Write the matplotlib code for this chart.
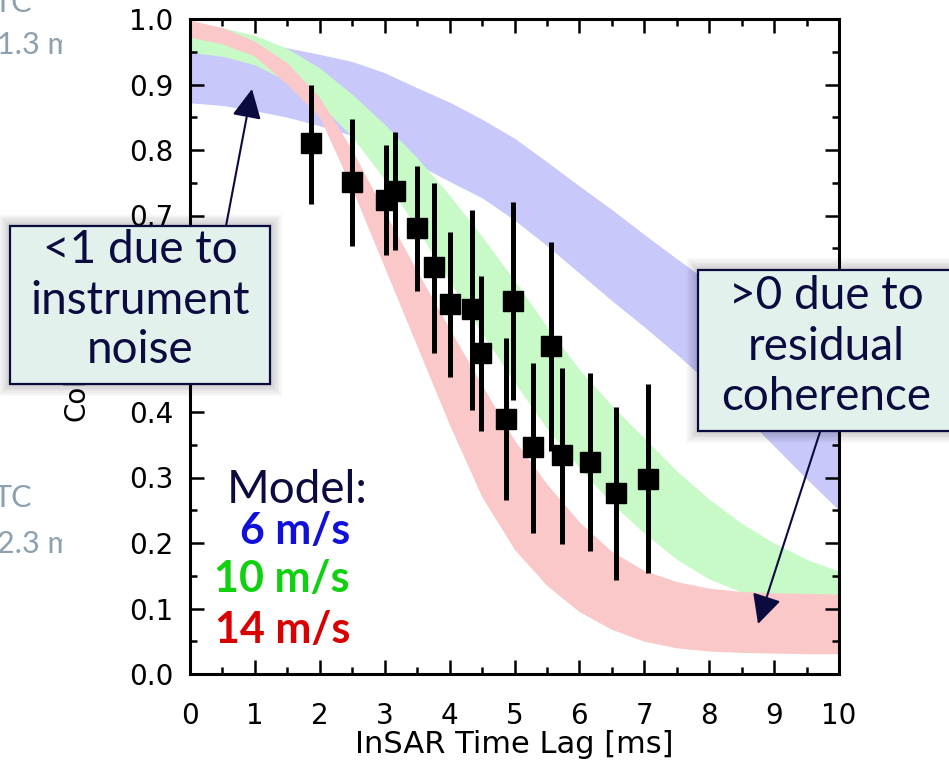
import matplotlib
matplotlib.use("Agg")
import matplotlib.pyplot as plt
from matplotlib.patches import Rectangle, FancyArrowPatch
from matplotlib.transforms import Bbox, TransformedBbox

# measured coherence vs. time lag, with asymmetric error bars
lag_ms = [1.87, 2.50, 3.02, 3.16, 3.49, 3.76, 4.00, 4.34, 4.48, 4.87, 4.98, 5.28, 5.56, 5.73, 6.16, 6.57, 7.05]
coherence = [0.810, 0.751, 0.723, 0.738, 0.681, 0.621, 0.565, 0.557, 0.490, 0.389, 0.570, 0.346, 0.501, 0.334, 0.324, 0.276, 0.298]
err_top = [0.900, 0.847, 0.807, 0.828, 0.775, 0.750, 0.675, 0.709, 0.608, 0.513, 0.721, 0.475, 0.660, 0.467, 0.460, 0.407, 0.442]
err_bot = [0.717, 0.654, 0.639, 0.648, 0.585, 0.490, 0.454, 0.403, 0.371, 0.265, 0.418, 0.216, 0.341, 0.199, 0.188, 0.143, 0.154]

# model envelopes for three wind speeds
model_lag = [0.0, 0.5, 1.0, 1.5, 2.0, 2.5, 3.0, 3.5, 4.0, 4.5, 5.0,
             5.5, 6.0, 6.5, 7.0, 7.5, 8.0, 8.5, 9.0, 9.5, 10.0]
v6_hi = [0.975, 0.972, 0.966, 0.956, 0.946, 0.935, 0.918, 0.895, 0.873, 0.847, 0.818,
         0.782, 0.745, 0.709, 0.671, 0.634, 0.598, 0.562, 0.527, 0.493, 0.460]
v6_lo = [0.872, 0.868, 0.860, 0.850, 0.837, 0.822, 0.803, 0.778, 0.752, 0.727, 0.693,
         0.654, 0.612, 0.570, 0.530, 0.488, 0.444, 0.398, 0.348, 0.298, 0.250]
v10_hi = [0.993, 0.987, 0.975, 0.955, 0.925, 0.885, 0.839, 0.788, 0.731, 0.668, 0.601,
          0.530, 0.465, 0.410, 0.360, 0.310, 0.267, 0.230, 0.200, 0.175, 0.157]
v10_lo = [0.949, 0.943, 0.930, 0.905, 0.870, 0.820, 0.755, 0.680, 0.600, 0.520, 0.445,
          0.375, 0.315, 0.260, 0.215, 0.175, 0.145, 0.125, 0.115, 0.110, 0.105]
v14_hi = [0.998, 0.987, 0.966, 0.933, 0.880, 0.800, 0.705, 0.615, 0.527, 0.441, 0.357,
          0.290, 0.232, 0.187, 0.158, 0.141, 0.131, 0.126, 0.124, 0.123, 0.122]
v14_lo = [0.972, 0.962, 0.943, 0.900, 0.850, 0.740, 0.620, 0.500, 0.380, 0.270, 0.190,
          0.135, 0.095, 0.068, 0.050, 0.040, 0.035, 0.033, 0.032, 0.031, 0.031]

speed_labels = ["6 m/s", "10 m/s", "14 m/s"]
speed_colors = ["#1010d8", "#10d010", "#d80000"]
band_colors = ["#c8c8fa", "#c8fac8", "#fac8c8"]

W, H = 949, 765
NAVY = "#0b0b40"


def fx(px):
    return px / W


def fy(py):
    return 1 - py / H


fig = plt.figure(figsize=(W / 100, H / 100), dpi=100)
ax = fig.add_axes([fx(190), fy(674), (839 - 190) / W, (674 - 19) / H])

bands = [(v6_lo, v6_hi), (v10_lo, v10_hi), (v14_lo, v14_hi)]
for (lo, hi), col in zip(bands, band_colors):
    ax.fill_between(model_lag, lo, hi, color=col, lw=0)

lower = [c - b for c, b in zip(coherence, err_bot)]
upper = [t - c for t, c in zip(err_top, coherence)]
ax.errorbar(lag_ms, coherence, yerr=[lower, upper], fmt="s", color="black",
            ms=14, elinewidth=3.6, capsize=0, zorder=5)

ax.set_xlim(0, 10)
ax.set_ylim(0, 1)
ax.set_xticks(range(11))
ax.set_xticks([i + 0.5 for i in range(10)], minor=True)
ax.set_yticks([i / 10 for i in range(11)])
ax.set_yticklabels([f"{i / 10:.1f}" for i in range(11)])
ax.set_yticks([i / 20 for i in range(21)], minor=True)
ax.tick_params(which="both", direction="in", top=True, right=True, width=1.8,
               labelsize=20)
ax.tick_params(which="major", length=10)
ax.tick_params(which="minor", length=5)
ax.tick_params(axis="x", pad=20)
ax.tick_params(axis="y", pad=12)
for sp in ax.spines.values():
    sp.set_linewidth(2.2)

ax.set_xlabel("InSAR Time Lag [ms]", fontsize=22)
ax.xaxis.set_label_coords(0.5, -0.086)
ax.set_ylabel("Coherence", fontsize=20)
ax.yaxis.set_label_coords(-0.154, 0.5)

# legend for the model bands
ax.text(fx(368), fy(490), "Model:", transform=fig.transFigure, ha="right",
        va="center", fontsize=33, family="Lato", color=NAVY)
for lab, col, py in zip(speed_labels, speed_colors, [531, 579, 630]):
    ax.text(fx(350), fy(py), lab, transform=fig.transFigure, ha="right",
            va="center", fontsize=31, family="Lato", weight="bold", color=col)


def callout(x0, y0, x1, y1, lines, cx, ys):
    # soft halo behind the box
    for i in range(8):
        g = 1.5 * (i + 1)
        fig.add_artist(Rectangle((fx(x0 - g), fy(y1 + g)),
                                 (x1 - x0 + 2 * g) / W, (y1 - y0 + 2 * g) / H,
                                 transform=fig.transFigure, facecolor="black",
                                 alpha=0.025, lw=0, zorder=9))
    fig.add_artist(Rectangle((fx(x0), fy(y1)), (x1 - x0) / W, (y1 - y0) / H,
                             transform=fig.transFigure, facecolor="#e2f1ec",
                             edgecolor=NAVY, lw=1.6, zorder=10))
    for txt, py in zip(lines, ys):
        fig.text(fx(cx), fy(py), txt, ha="center", va="center", fontsize=33,
                 family="Lato", color=NAVY, zorder=11)


def arrow(p0, p1):
    fig.add_artist(FancyArrowPatch((fx(p0[0]), fy(p0[1])), (fx(p1[0]), fy(p1[1])),
                                   transform=fig.transFigure,
                                   arrowstyle="-|>,head_length=0.9,head_width=0.45",
                                   mutation_scale=20, lw=1.5, color=NAVY,
                                   shrinkA=0, shrinkB=0, zorder=12))


arrow((226, 226), (252, 89))
arrow((820, 432), (758, 624))
callout(10, 226, 270, 384, ["<1 due to", "instrument", "noise"], 140, [250, 301, 350])
callout(698, 270, 975, 431, [">0 due to", "residual", "coherence"], 826, [296, 347, 397])

# neighbouring slide text peeking in on the left
clip = TransformedBbox(Bbox([[0, 0], [fx(62), 1]]), fig.transFigure)
for txt, px, py in [("TC", -6, 12), ("1.3 ms", -3, 54), ("TC", -6, 507), ("2.3 ms", -3, 553)]:
    t = fig.text(fx(px), fy(py), txt, ha="left", va="baseline", fontsize=22,
                 family="Lato", color="#8ca0af")
    t.set_clip_box(clip)
    t.set_clip_on(True)

fig.savefig("out.png", dpi=100)
